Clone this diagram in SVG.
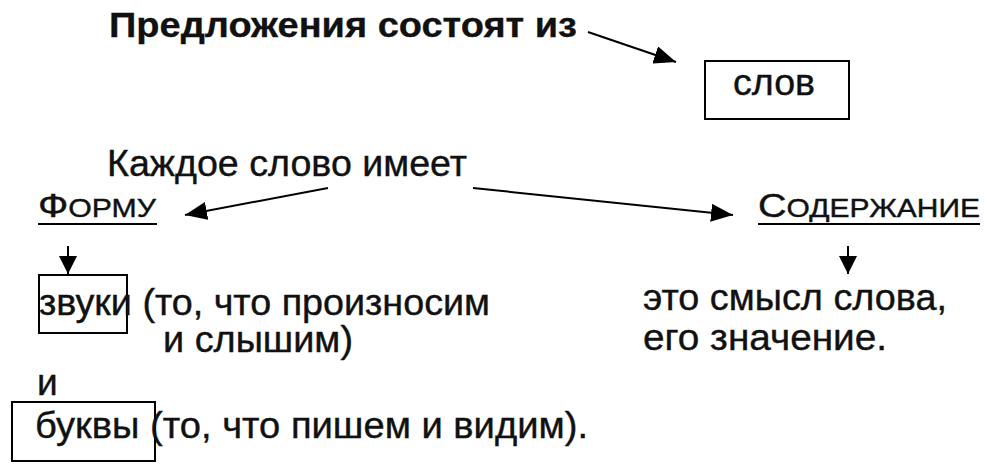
<svg xmlns="http://www.w3.org/2000/svg" width="988" height="472" viewBox="0 0 988 472">
<defs>
<marker id="ah" markerUnits="userSpaceOnUse" markerWidth="24" markerHeight="18" refX="22" refY="9" orient="auto">
<path d="M0,0 L22,9 L0,18 Z" fill="#000"/>
</marker>
<marker id="ad" markerUnits="userSpaceOnUse" markerWidth="20" markerHeight="18" refX="18" refY="9" orient="auto">
<path d="M0,0 L18,9 L0,18 Z" fill="#000"/>
</marker>
<style>
text{font-family:"Liberation Sans",Arial,sans-serif;fill:#111;stroke:#111;stroke-width:0.4;}
.t{font-size:35px;font-weight:bold;stroke-width:0.3;}
.b{font-size:37px;}
.box{fill:none;stroke:#000;stroke-width:2;}
.c{stroke:#000;stroke-width:2;fill:none;marker-end:url(#ah);}
.d{stroke:#000;stroke-width:2;fill:none;marker-end:url(#ad);}
.u{stroke:#000;stroke-width:2;}
</style>
</defs>
<rect width="988" height="472" fill="#fff"/>
<g id="title"><text class="t" x="109" y="37" textLength="468" lengthAdjust="spacingAndGlyphs">Предложения состоят из</text></g>
<g id="slov"><rect class="box" x="705" y="61" width="144" height="58"/><text class="b" x="733" y="95" font-size="38" textLength="82" lengthAdjust="spacingAndGlyphs">слов</text></g>
<g id="kazhdoe"><text class="b" x="107" y="176" textLength="360" lengthAdjust="spacingAndGlyphs">Каждое слово имеет</text></g>
<g id="formu"><text x="38" y="217" textLength="118" lengthAdjust="spacingAndGlyphs"><tspan font-size="33">Ф</tspan><tspan font-size="25">ОРМУ</tspan></text><line class="u" x1="38" y1="224" x2="157" y2="224"/></g>
<g id="soderzhanie"><text x="758" y="217" textLength="222" lengthAdjust="spacingAndGlyphs"><tspan font-size="33">С</tspan><tspan font-size="25">ОДЕРЖАНИЕ</tspan></text><line class="u" x1="758" y1="224" x2="980" y2="224"/></g>
<g id="zvuki"><rect class="box" x="39" y="275" width="88" height="58"/><text class="b" x="39" y="315" textLength="451" lengthAdjust="spacingAndGlyphs">звуки (то, что произносим</text><text class="b" x="163" y="352" textLength="190" lengthAdjust="spacingAndGlyphs">и слышим)</text></g>
<g id="smysl"><text class="b" x="643" y="310" textLength="304" lengthAdjust="spacingAndGlyphs">это смысл слова,</text><text class="b" x="643" y="350" textLength="244" lengthAdjust="spacingAndGlyphs">его значение.</text></g>
<g id="i"><text class="b" x="37" y="395">и</text></g>
<g id="bukvy"><rect class="box" x="12" y="402" width="143" height="59"/><text class="b" x="35" y="438" textLength="553" lengthAdjust="spacingAndGlyphs">буквы (то, что пишем и видим).</text></g>
<g id="connectors">
<line class="c" x1="588" y1="32" x2="676" y2="62"/>
<line class="c" x1="328" y1="188" x2="185" y2="215"/>
<line class="c" x1="473" y1="188" x2="733" y2="215"/>
<line class="d" x1="68" y1="246" x2="68" y2="274"/>
<line class="d" x1="848" y1="246" x2="848" y2="274"/>
</g>
</svg>
